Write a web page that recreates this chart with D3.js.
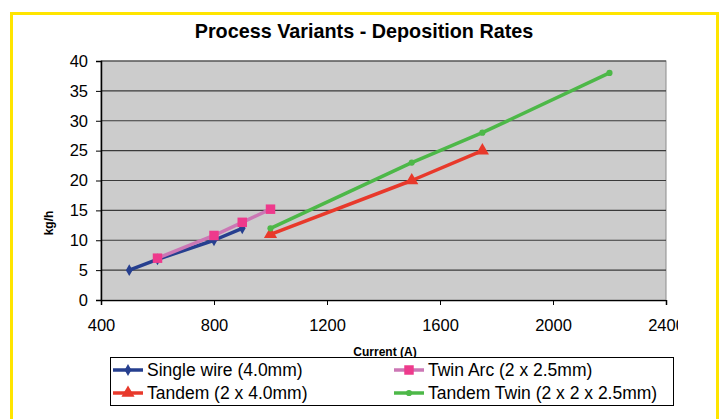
<!DOCTYPE html>
<html>
<head>
<meta charset="utf-8">
<script src="https://cdn.jsdelivr.net/npm/d3@7"></script>
<style>
  body { margin: 0; background: #fff; }
  svg { display: block; font-family: "Liberation Sans", Arial, sans-serif; }
</style>
</head>
<body>
<svg width="725" height="419"></svg>
<script>
// chart data
var seriesNames = ["Single wire (4.0mm)", "Twin Arc (2 x 2.5mm)", "Tandem (2 x 4.0mm)", "Tandem Twin (2 x 2 x 2.5mm)"];
var singleWire = [[500, 5], [600, 6.8], [800, 10], [900, 12]];
var twinArc = [[600, 7], [800, 10.8], [900, 13], [1000, 15.2]];
var tandem = [[1000, 11], [1500, 20], [1750, 25]];
var tandemTwin = [[1000, 12], [1500, 23], [1750, 28], [2200, 38]];
var xTicks = [400, 800, 1200, 1600, 2000, 2400];
var yTicks = [0, 5, 10, 15, 20, 25, 30, 35, 40];

var svg = d3.select("svg");

// the original picture is cut just right of the last x label
svg.append("clipPath").attr("id", "cut")
    .append("rect").attr("x", 0).attr("y", 0).attr("width", 678).attr("height", 419);

// yellow frame
svg.append("rect")
    .attr("x", 11.5).attr("y", 13.5)
    .attr("width", 706).attr("height", 420)
    .attr("fill", "#fff")
    .attr("stroke", "#FFE500")
    .attr("stroke-width", 3);

var plotL = 101, plotR = 666, plotT = 61, plotB = 300;

var x = d3.scaleLinear().domain([400, 2400]).range([plotL, plotR]);
var y = d3.scaleLinear().domain([0, 40]).range([plotB, plotT]);

// plot area
svg.append("rect")
    .attr("x", plotL).attr("y", plotT)
    .attr("width", plotR - plotL).attr("height", plotB - plotT)
    .attr("fill", "#CCCCCC")
    .attr("stroke", "#8C8C8C")
    .attr("stroke-width", 1);

// grid lines
svg.append("g").selectAll("line")
    .data(yTicks.filter(function(d) { return d > 0; }))
    .enter().append("line")
    .attr("x1", plotL).attr("x2", plotR)
    .attr("y1", function(d) { return y(d); })
    .attr("y2", function(d) { return y(d); })
    .attr("stroke", "#3a3a3a")
    .attr("stroke-width", 1.2);

// axes
var yAxis = svg.append("g")
    .attr("transform", "translate(" + plotL + ",0)")
    .call(d3.axisLeft(y).tickValues(yTicks).tickSize(5).tickPadding(8));
var xAxis = svg.append("g")
    .attr("transform", "translate(0," + plotB + ")")
    .attr("clip-path", "url(#cut)")
    .call(d3.axisBottom(x).tickValues(xTicks).tickSize(5).tickPadding(14).tickFormat(d3.format("d")));

[yAxis, xAxis].forEach(function(a) {
    a.select(".domain").attr("stroke", "#000").attr("stroke-width", 1.5);
    a.selectAll(".tick line").attr("stroke", "#000").attr("stroke-width", 1);
    a.selectAll("text").attr("font-size", 16.5).attr("fill", "#000")
        .attr("font-family", "Liberation Sans, Arial, sans-serif");
});

// title + axis labels
svg.append("text")
    .attr("x", 364).attr("y", 38)
    .attr("text-anchor", "middle")
    .attr("font-size", 19.8).attr("font-weight", "bold")
    .text("Process Variants - Deposition Rates");

svg.append("text")
    .attr("transform", "translate(53,223) rotate(-90)")
    .attr("text-anchor", "middle")
    .attr("font-size", 12).attr("font-weight", "bold")
    .text("kg/h");

svg.append("text")
    .attr("x", 385).attr("y", 356)
    .attr("text-anchor", "middle")
    .attr("font-size", 12).attr("font-weight", "bold")
    .text("Current (A)");

// series
var series = [
    { name: seriesNames[0], data: singleWire, line: "#263F8F", mark: "#263F8F", shape: d3.symbolDiamond, size: 40 },
    { name: seriesNames[1], data: twinArc, line: "#CC77B5", mark: "#EE3A8C", shape: d3.symbolSquare, size: 90 },
    { name: seriesNames[2], data: tandem, line: "#E8392B", mark: "#E8392B", shape: d3.symbolTriangle, size: 75 },
    { name: seriesNames[3], data: tandemTwin, line: "#4DB848", mark: "#4DB848", shape: d3.symbolCircle, size: 30 }
];

var lineGen = d3.line()
    .x(function(d) { return x(d[0]); })
    .y(function(d) { return y(d[1]); });

series.forEach(function(s) {
    svg.append("path")
        .attr("d", lineGen(s.data))
        .attr("fill", "none")
        .attr("stroke", s.line)
        .attr("stroke-width", 3.5)
        .attr("stroke-linejoin", "round");
    svg.append("g").selectAll("path")
        .data(s.data).enter()
        .append("path")
        .attr("transform", function(d) { return "translate(" + x(d[0]) + "," + y(d[1]) + ")"; })
        .attr("d", d3.symbol().type(s.shape).size(s.size))
        .attr("fill", s.mark);
});

// legend
var legend = svg.append("g");
legend.append("rect")
    .attr("x", 110.5).attr("y", 357.5)
    .attr("width", 563).attr("height", 48)
    .attr("fill", "#fff")
    .attr("stroke", "#000")
    .attr("stroke-width", 1);

var legendPos = [[113, 370], [394, 370], [113, 393], [394, 393]];
series.forEach(function(s, i) {
    var p = legendPos[i];
    var g = legend.append("g").attr("transform", "translate(" + p[0] + "," + p[1] + ")");
    g.append("line")
        .attr("x1", 0).attr("x2", 30)
        .attr("stroke", s.line).attr("stroke-width", 3.5);
    g.append("path")
        .attr("transform", "translate(15,0)")
        .attr("d", d3.symbol().type(s.shape).size(s.size))
        .attr("fill", s.mark);
    g.append("text")
        .attr("x", 34).attr("y", 6)
        .attr("font-size", 17.5)
        .text(s.name);
});
</script>
</body>
</html>
